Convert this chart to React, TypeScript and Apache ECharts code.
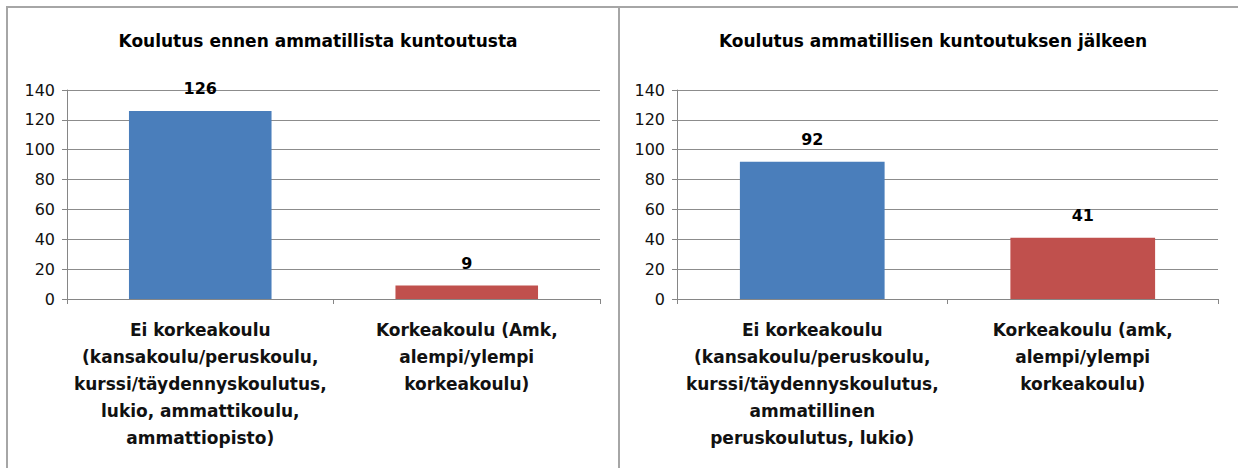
import React, { useEffect, useRef } from "react";
import * as echarts from "echarts";

const titleLeft = "Koulutus ennen ammatillista kuntoutusta";
const titleRight = "Koulutus ammatillisen kuntoutuksen jälkeen";

const categoriesLeft = [
  "Ei korkeakoulu\n(kansakoulu/peruskoulu,\nkurssi/täydennyskoulutus,\nlukio, ammattikoulu,\nammattiopisto)",
  "Korkeakoulu (Amk,\nalempi/ylempi\nkorkeakoulu)",
];
const categoriesRight = [
  "Ei korkeakoulu\n(kansakoulu/peruskoulu,\nkurssi/täydennyskoulutus,\nammatillinen\nperuskoulutus, lukio)",
  "Korkeakoulu (amk,\nalempi/ylempi\nkorkeakoulu)",
];
const valuesLeft = [126, 9];
const valuesRight = [92, 41];
const barColors = ["#4a7ebb", "#c0504d"];

const yMin = 0;
const yMax = 140;
const yInterval = 20;

const FONT = "DejaVu Sans";

export default function App() {
  const ref = useRef<HTMLDivElement>(null);

  useEffect(() => {
    if (!ref.current) return;
    const chart = echarts.init(ref.current, undefined, { renderer: "svg" });

    const axisGray = "#868686";
    const makeX = (gridIndex: number, cats: string[]) => ({
      type: "category",
      gridIndex,
      data: cats,
      axisLine: { lineStyle: { color: axisGray, width: 1 } },
      axisTick: { show: true, length: 5, alignWithLabel: false, lineStyle: { color: axisGray } },
      axisLabel: {
        interval: 0,
        margin: 17,
        color: "#111",
        fontFamily: FONT,
        fontWeight: "bold",
        fontSize: 17,
        lineHeight: 27,
        align: "center",
      },
    });
    const makeY = (gridIndex: number) => ({
      type: "value",
      gridIndex,
      min: yMin,
      max: yMax,
      interval: yInterval,
      axisLine: { show: true, lineStyle: { color: axisGray } },
      axisTick: { show: true, length: 5, lineStyle: { color: axisGray } },
      splitLine: { show: true, lineStyle: { color: "#8c8c8c", width: 1 } },
      axisLabel: { margin: 12, color: "#111", fontFamily: FONT, fontSize: 16 },
    });
    const makeSeries = (idx: number, vals: number[]) => ({
      type: "bar",
      xAxisIndex: idx,
      yAxisIndex: idx,
      barWidth: "53.5%",
      data: vals.map((v, i) => ({ value: v, itemStyle: { color: barColors[i] } })),
      label: {
        show: true,
        position: "top",
        distance: 14,
        color: "#000",
        fontFamily: FONT,
        fontWeight: "bold",
        fontSize: 16,
      },
    });

    chart.setOption({
      animation: false,
      backgroundColor: "#ffffff",
      title: [
        {
          text: titleLeft,
          left: 313,
          top: 27,
          textAlign: "center",
          textStyle: { fontFamily: FONT, fontWeight: "bold", fontSize: 17, color: "#000" },
        },
        {
          text: titleRight,
          left: 928,
          top: 27,
          textAlign: "center",
          textStyle: { fontFamily: FONT, fontWeight: "bold", fontSize: 17, color: "#000" },
        },
      ],
      grid: [
        { left: 67, right: 638, top: 90, bottom: 169, containLabel: false },
        { left: 677, right: 20, top: 90, bottom: 169, containLabel: false },
      ],
      xAxis: [makeX(0, categoriesLeft), makeX(1, categoriesRight)],
      yAxis: [makeY(0), makeY(1)],
      series: [makeSeries(0, valuesLeft), makeSeries(1, valuesRight)],
      graphic: [
        {
          type: "polyline",
          shape: { points: [[7, 470], [7, 7], [1240, 7]] },
          style: { stroke: "#a6a6a6", lineWidth: 2, fill: "none" },
          silent: true,
        },
        {
          type: "line",
          shape: { x1: 619, y1: 7, x2: 619, y2: 470 },
          style: { stroke: "#a6a6a6", lineWidth: 2 },
          silent: true,
        },
      ],
    });

    return () => chart.dispose();
  }, []);

  return (
    <div
      ref={ref}
      style={{ position: "absolute", left: 0, top: 0, width: 1238, height: 468 }}
    />
  );
}
